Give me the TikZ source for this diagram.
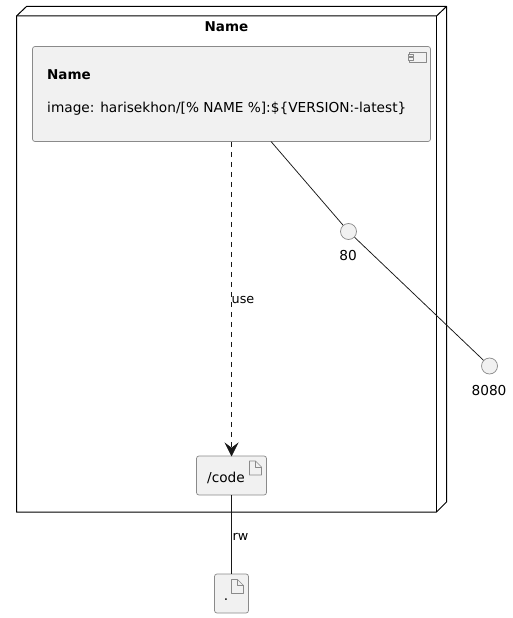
\documentclass[tikz,border=0pt]{standalone}
\usepackage{fontspec}
\setmainfont{DejaVu Sans}
\usetikzlibrary{arrows.meta}
\definecolor{umlfill}{HTML}{F1F1F1}
\definecolor{umlborder}{HTML}{8A8A8A}
\definecolor{umlline}{HTML}{181818}
\tikzset{
  px/.style={x=1pt,y=-1pt},
  nodeedge/.style={draw=black,line width=1pt,line join=round},
  umlbox/.style={draw=umlborder,fill=umlfill,line width=0.7pt,rounded corners=2.5pt},
  fileicon/.style={draw=umlborder,line width=0.7pt,fill=none,line join=round},
  port/.style={circle,draw=umlborder,fill=umlfill,line width=0.7pt,minimum size=16pt,inner sep=0pt},
  conn/.style={draw=umlline,line width=0.75pt},
  tlabel/.style={inner sep=0pt,font=\fontsize{13.7}{16}\selectfont,text=black},
  blabel/.style={inner sep=0pt,font=\fontsize{13.5}{16}\selectfont\bfseries,text=black},
  elabel/.style={inner sep=0pt,font=\fontsize{12.8}{15}\selectfont,text=black},
}
\begin{document}
\begin{tikzpicture}[px]
\useasboundingbox (0,0) rectangle (513,618);
\fill[white] (0,0) rectangle (513,618);
% node box
\draw[nodeedge] (16.5,16) -- (26.5,6.5) -- (446.5,6.5) -- (446.5,502) -- (436.5,512) -- (16.5,512) -- cycle;
\draw[nodeedge] (16.5,16) -- (436.5,16) -- (446.5,6.5);
\draw[nodeedge] (436.5,16) -- (436.5,512);
\node[blabel] (title) at (226.5,27) {Name};
% component
\node[umlbox,minimum width=398pt,minimum height=95pt,inner sep=0pt] (comp) at (231.5,94) {};
\draw[fileicon] (409,52) rectangle (426,62);
\draw[fileicon,fill=umlfill] (408,54) rectangle (413,56.5);
\draw[fileicon,fill=umlfill] (408,57.5) rectangle (413,60);
\node[blabel,anchor=base west] (cname) at (47,79) {Name};
\node[tlabel,anchor=base west] (cimg) at (47,112) {image: harisekhon/[\% NAME \%]:\$\{VERSION:-latest\}};
% code
\node[umlbox,minimum width=70pt,minimum height=39pt,inner sep=0pt] (code) at (231.5,475.5) {};
\node[tlabel,anchor=base] (codet) at (226,482) {/code};
\draw[fileicon] (249.5,461) -- (249.5,475) -- (261.5,475) -- (261.5,467) -- (255.5,461) -- cycle;
\draw[fileicon] (255.5,461) -- (255.5,467) -- (261.5,467);
% dot
\node[umlbox,minimum width=34pt,minimum height=39pt,inner sep=0pt] (dot) at (231.5,593.5) {};
\node[tlabel,anchor=base] (dott) at (226,600) {.};
\draw[fileicon] (231.5,579.5) -- (231.5,593.5) -- (243.5,593.5) -- (243.5,585.5) -- (237.5,579.5) -- cycle;
\draw[fileicon] (237.5,579.5) -- (237.5,585.5) -- (243.5,585.5);
% ports
\node[port] (p80) at (348.5,231.5) {};
\node[tlabel] (l80) at (348,256) {80};
\node[port] (p8080) at (489.5,366) {};
\node[tlabel] (l8080) at (489,391) {8080};
% connectors
\draw[conn,dash pattern=on 5pt off 5pt] (comp.south -| code.north) -- ([yshift=5pt]code.north);
\path[draw=umlline,fill=umlline,line width=0.75pt,line join=miter] (code.north) -- ++(-6,-12) -- ++(6,4.5) -- ++(6,-4.5) -- cycle;
\coordinate (compexit) at (271,141.5);
\draw[conn] (compexit) -- (p80);
\draw[conn] (p80) -- (p8080);
\draw[conn] (code.south) -- (dot.north);
\node[elabel,anchor=base west] (use) at (231.5,303) {use};
\node[elabel,anchor=base west] (rw) at (232.5,540) {rw};
\end{tikzpicture}
\end{document}
